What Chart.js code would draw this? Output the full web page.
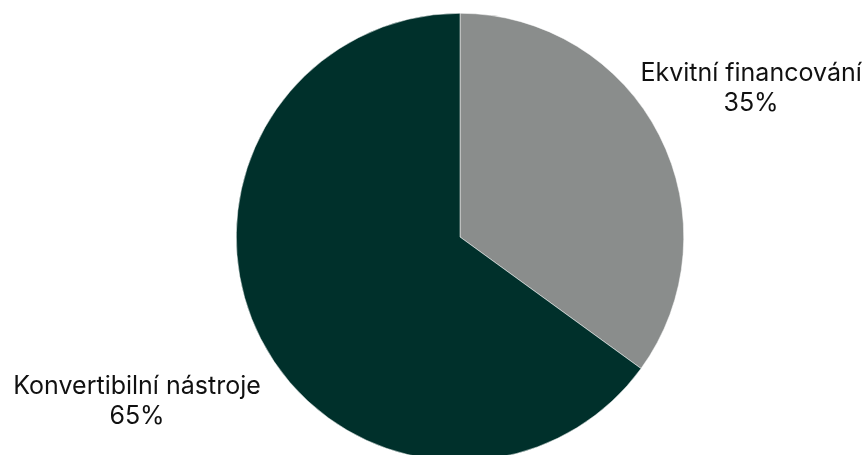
<!DOCTYPE html>
<html>
<head>
<meta charset="utf-8">
<script src="https://cdn.jsdelivr.net/npm/chart.js@4"></script>
<style>
    html, body { margin: 0; padding: 0; background: #fff; overflow: hidden; }
    #wrap { width: 868px; height: 470px; }
</style>
</head>
<body>
<div id="wrap"><canvas id="pieChart"></canvas></div>
<script>
const labels = ['Ekvitní financování', 'Konvertibilní nástroje'];
const values = [35, 65];
const colors = ['#8a8d8c', '#00302b'];
const labelDistance = [1.46, 1.62]; // how far out each label sits, in radii

// draws the two-line labels outside the slices
const outsideLabels = {
    id: 'outsideLabels',
    afterDraw(chart) {
        const ctx = chart.ctx;
        const meta = chart.getDatasetMeta(0);
        ctx.save();
        ctx.font = '25px Inter, "Liberation Sans", sans-serif';
        ctx.fillStyle = '#111';
        ctx.textAlign = 'center';
        ctx.textBaseline = 'middle';
        meta.data.forEach((arc, i) => {
            const mid = (arc.startAngle + arc.endAngle) / 2;
            const r = arc.outerRadius * labelDistance[i];
            const x = arc.x + Math.cos(mid) * r;
            const y = arc.y + Math.sin(mid) * r;
            ctx.fillText(labels[i], x, y - 15);
            ctx.fillText(values[i] + '%', x, y + 15);
        });
        ctx.restore();
    }
};

new Chart(document.getElementById('pieChart').getContext('2d'), {
    type: 'pie',
    data: {
        labels: labels,
        datasets: [{
            data: values,
            backgroundColor: colors,
            borderColor: '#ffffff',
            borderWidth: 0.5
        }]
    },
    options: {
        responsive: true,
        maintainAspectRatio: false,
        animation: false,
        layout: { padding: { top: 13, bottom: 9, left: 52, right: 0 } },
        plugins: {
            legend: { display: false },
            tooltip: { enabled: false }
        }
    },
    plugins: [outsideLabels]
});
</script>
</body>
</html>
